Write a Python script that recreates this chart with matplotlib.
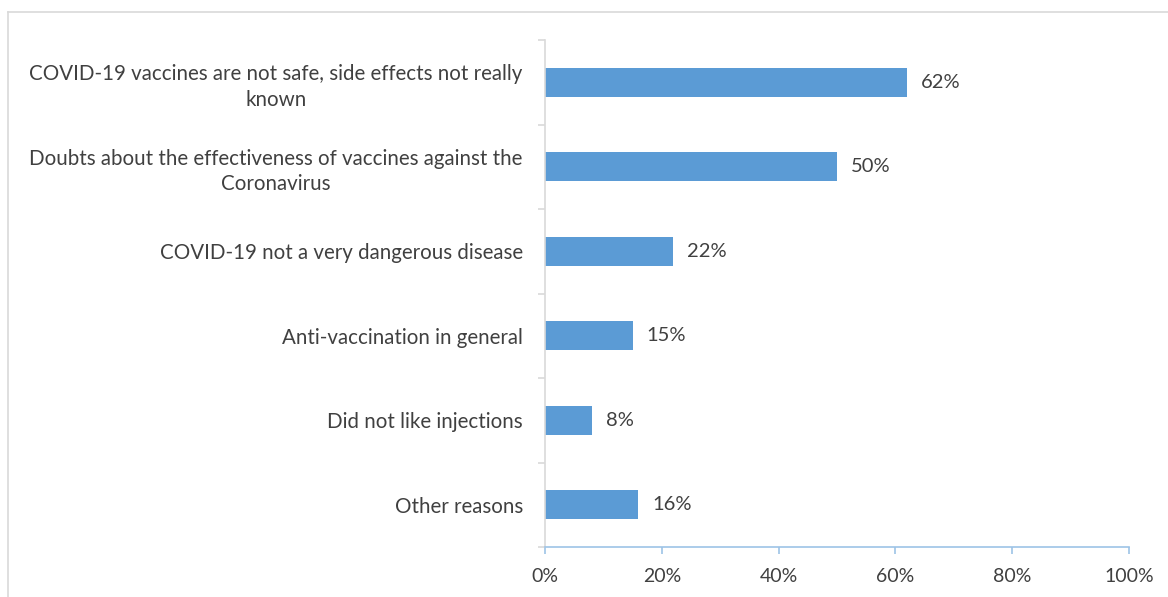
import matplotlib
matplotlib.use('Agg')
import matplotlib.pyplot as plt
from matplotlib.lines import Line2D
import numpy as np

# Dados (de cima para baixo)
categorias = [
    'COVID-19 vaccines are not safe, side effects not really\nknown',
    'Doubts about the effectiveness of vaccines against the\nCoronavirus',
    'COVID-19 not a very dangerous disease',
    'Anti-vaccination in general',
    'Did not like injections',
    'Other reasons',
]
valores = [62, 50, 22, 15, 8, 16]
rotulos_valor = ['62%', '50%', '22%', '15%', '8%', '16%']
ticks_x = [0, 20, 40, 60, 80, 100]
rotulos_x = ['0%', '20%', '40%', '60%', '80%', '100%']

plt.rcParams['font.family'] = ['Lato', 'DejaVu Sans']
cor_texto = '#404040'
cor_barra = '#5B9BD5'

fig = plt.figure(figsize=(11.68, 5.97), dpi=100)
ax = fig.add_axes([545 / 1168, 1 - 547 / 597, 584 / 1168, 507 / 597])

n = len(categorias)
pos = np.arange(n)[::-1]
ax.barh(pos, valores, height=0.345, color=cor_barra, zorder=2)

for p, v, r in zip(pos, valores, rotulos_valor):
    ax.annotate(r, (v, p), textcoords='offset points', xytext=(10, 0),
                ha='left', va='center', fontsize=14.5, color=cor_texto)

ax.set_xlim(0, 100)
ax.set_ylim(-0.5, n - 0.5)
ax.set_xticks(ticks_x)
ax.set_xticklabels(rotulos_x, fontsize=14, color=cor_texto)
ax.set_yticks(pos)
ax.set_yticklabels(categorias, fontsize=14.8, color=cor_texto,
                   multialignment='center', linespacing=1.35)
ax.set_yticks(np.arange(-0.5, n, 1.0), minor=True)

ax.tick_params(axis='y', which='major', length=0, pad=16)
ax.tick_params(axis='y', which='minor', length=5, color='#D9D9D9', width=1.2)
ax.tick_params(axis='x', length=5, color='#9DC3E6', width=1.2, pad=10)

for lado in ['top', 'right']:
    ax.spines[lado].set_visible(False)
ax.spines['left'].set_color('#D9D9D9')
ax.spines['left'].set_linewidth(1.2)
ax.spines['bottom'].set_color('#9DC3E6')
ax.spines['bottom'].set_linewidth(1.2)

# moldura do gráfico
fig.add_artist(Line2D([8 / 1168, 1], [1 - 12 / 597, 1 - 12 / 597],
                      transform=fig.transFigure, color='#D9D9D9', lw=1.2))
fig.add_artist(Line2D([8 / 1168, 8 / 1168], [0, 1 - 12 / 597],
                      transform=fig.transFigure, color='#D9D9D9', lw=1.2))

plt.savefig('out.png', dpi=100)
plt.close()
